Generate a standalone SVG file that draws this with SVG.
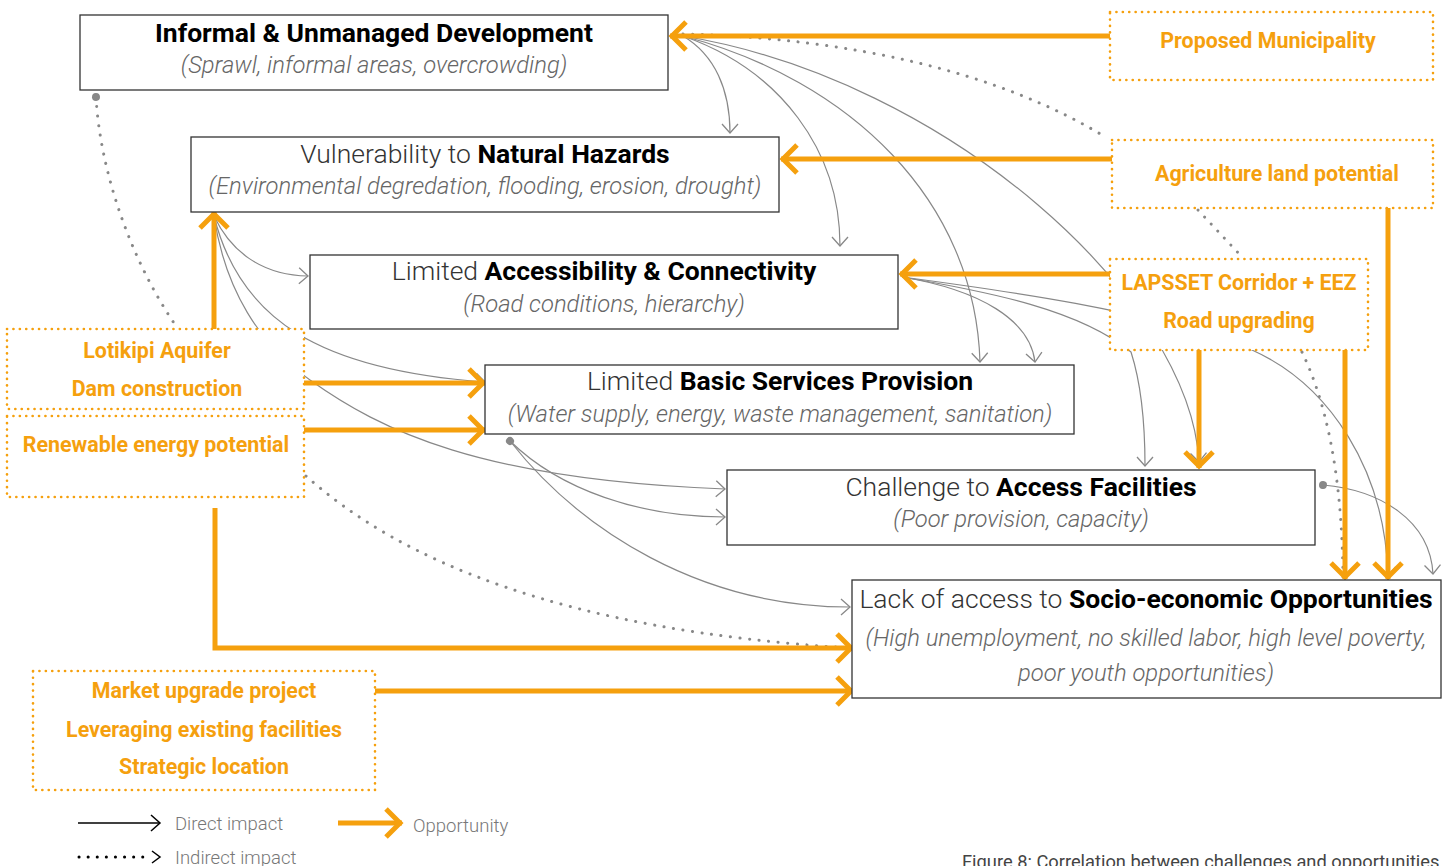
<svg xmlns="http://www.w3.org/2000/svg" width="1448" height="866" viewBox="0 0 1448 866">
<style>
.bg{fill:#fff}
.ch rect{fill:#fff;stroke:#333;stroke-width:1.3}
.op rect{fill:#fff;stroke:#F5A00E;stroke-width:2.6;stroke-dasharray:0.1 6.3;stroke-linecap:round}
.t{font-family:Roboto,"Liberation Sans",sans-serif;font-size:26.5px;text-anchor:middle;fill:#333;font-weight:300}
.t tspan.b{font-weight:700;fill:#000}
.tb{font-family:Roboto,"Liberation Sans",sans-serif;font-size:26.5px;text-anchor:middle;fill:#000;font-weight:700}
.s{font-family:Roboto,"Liberation Sans",sans-serif;font-size:23.8px;text-anchor:middle;fill:#666;font-style:italic;font-weight:300}
.o{font-family:Roboto,"Liberation Sans",sans-serif;font-size:21.4px;text-anchor:middle;fill:#F5A00E;font-weight:700}
.g{fill:none;stroke:#888;stroke-width:1.2;marker-end:url(#ga)}
.d{fill:none;stroke:#888;stroke-width:3;stroke-dasharray:0.1 9.5;stroke-linecap:round}
.or{fill:none;stroke:#F5A00E;stroke-width:5;marker-end:url(#oa)}
.lg{font-family:Roboto,"Liberation Sans",sans-serif;font-size:18.5px;fill:#777;font-weight:300}
.cap{font-family:Roboto,"Liberation Sans",sans-serif;font-size:18.3px;fill:#444}
</style>
<defs>
<marker id="ga" markerUnits="userSpaceOnUse" markerWidth="20" markerHeight="20" refX="0" refY="0" orient="auto" overflow="visible">
<path d="M-9,-8 L0,0 L-9,8" fill="none" stroke="#888" stroke-width="1.3"/>
</marker>
<marker id="ka" markerUnits="userSpaceOnUse" markerWidth="20" markerHeight="20" refX="0" refY="0" orient="auto" overflow="visible">
<path d="M-9,-8 L0,0 L-9,8" fill="none" stroke="#000" stroke-width="1.5"/>
</marker>
<marker id="oa" markerUnits="userSpaceOnUse" markerWidth="40" markerHeight="40" refX="0" refY="0" orient="auto" overflow="visible">
<path d="M-16,-14 L-2,0 L-16,14" fill="none" stroke="#F5A00E" stroke-width="5"/>
</marker>
<marker id="dot" markerUnits="userSpaceOnUse" markerWidth="10" markerHeight="10" refX="0" refY="0" orient="auto" overflow="visible">
<circle cx="0" cy="0" r="4" fill="#888"/>
</marker>
</defs>
<rect class="bg" x="0" y="0" width="1448" height="866"/>

<g id="connectors">
<!-- indirect (dotted) -->
<path class="d" d="M96,97 C100,170 130,260 178,329" marker-start="url(#dot)"/>
<path class="d" d="M683,34 C850,38 1000,72 1107,138"/>
<path class="d" d="M1198,210 L1243,258"/>
<path class="d" d="M1302,352 C1325,400 1342,470 1343,578"/>
<path class="d" d="M306,476 C400,560 560,630 850,648"/>
<!-- direct (gray) -->
<path class="g" d="M683,36 C715,55 730,90 730,133"/>
<path class="g" d="M683,36 C780,70 840,150 840,246"/>
<path class="g" d="M683,36 C850,80 975,200 980,362"/>
<path class="g" d="M683,36 C950,80 1190,300 1199,462"/>
<path class="g" d="M902,277 C980,290 1030,320 1035,362"/>
<path class="g" d="M902,277 C990,292 1080,310 1131,352 C1140,380 1145,420 1145,466"/>
<path class="g" d="M902,277 C1000,290 1150,310 1252,350 C1330,385 1385,470 1388,576"/>
<path class="g" d="M214,216 C230,250 260,275 308,276"/>
<path class="g" d="M214,216 C240,320 320,370 485,382"/>
<path class="g" d="M214,216 C225,290 260,345 310,380 C380,430 480,480 725,489"/>
<path class="g" d="M510,441 C560,490 640,517 725,517" marker-start="url(#dot)"/>
<path class="g" d="M510,441 C580,530 700,607 850,607"/>
<path class="g" d="M1323,485 C1380,490 1430,520 1433,574" marker-start="url(#dot)"/>
<!-- opportunities (orange) -->
<path class="or" d="M1110,36 L670,36"/>
<path class="or" d="M1112,159 L781,159"/>
<path class="or" d="M1110,274 L900,274"/>
<path class="or" d="M214,329 L214,212"/>
<path class="or" d="M304,383 L485,383"/>
<path class="or" d="M304,430 L485,430"/>
<path class="or" d="M215,508 L215,648 L853,648"/>
<path class="or" d="M375,691 L853,691"/>
<path class="or" d="M1199,350 L1199,468"/>
<path class="or" d="M1345,350 L1345,579"/>
<path class="or" d="M1388,208 L1388,579"/>
</g>

<g id="informal" class="ch">
<rect x="80" y="15" width="588" height="75"/>
<text class="tb" x="374" y="42">Informal &amp; Unmanaged Development</text>
<text class="s" x="374" y="73">(Sprawl, informal areas, overcrowding)</text>
</g>
<g id="hazards" class="ch">
<rect x="191" y="137" width="588" height="75"/>
<text class="t" x="485" y="163">Vulnerability to <tspan class="b">Natural Hazards</tspan></text>
<text class="s" x="485" y="194">(Environmental degredation, flooding, erosion, drought)</text>
</g>
<g id="accessibility" class="ch">
<rect x="310" y="255" width="588" height="74"/>
<text class="t" x="604" y="280">Limited <tspan class="b">Accessibility &amp; Connectivity</tspan></text>
<text class="s" x="604" y="312">(Road conditions, hierarchy)</text>
</g>
<g id="services" class="ch">
<rect x="485" y="365" width="589" height="69"/>
<text class="t" x="780" y="390">Limited <tspan class="b">Basic Services Provision</tspan></text>
<text class="s" x="780" y="422">(Water supply, energy, waste management, sanitation)</text>
</g>
<g id="facilities" class="ch">
<rect x="727" y="470" width="588" height="75"/>
<text class="t" x="1021" y="496">Challenge to <tspan class="b">Access Facilities</tspan></text>
<text class="s" x="1021" y="527">(Poor provision, capacity)</text>
</g>
<g id="socio" class="ch">
<rect x="852" y="580" width="589" height="118"/>
<text class="t" x="1146" y="608">Lack of access to <tspan class="b">Socio-economic Opportunities</tspan></text>
<text class="s" x="1146" y="646">(High unemployment, no skilled labor, high level poverty,</text>
<text class="s" x="1146" y="681">poor youth opportunities)</text>
</g>

<g id="municipality" class="op">
<rect x="1110" y="12" width="323" height="68"/>
<text class="o" x="1268" y="48">Proposed Municipality</text>
</g>
<g id="agriculture" class="op">
<rect x="1112" y="140" width="321" height="68"/>
<text class="o" x="1277" y="181">Agriculture land potential</text>
</g>
<g id="lapsset" class="op">
<rect x="1110" y="259" width="258" height="91"/>
<text class="o" x="1239" y="290">LAPSSET Corridor + EEZ</text>
<text class="o" x="1239" y="328">Road upgrading</text>
</g>
<g id="lotikipi" class="op">
<rect x="7" y="329" width="297" height="80"/>
<text class="o" x="157" y="358">Lotikipi Aquifer</text>
<text class="o" x="157" y="396">Dam construction</text>
</g>
<g id="renewable" class="op">
<rect x="7" y="416" width="297" height="81"/>
<text class="o" x="156" y="452">Renewable energy potential</text>
</g>
<g id="market" class="op">
<rect x="33" y="671" width="342" height="119"/>
<text class="o" x="204" y="698">Market upgrade project</text>
<text class="o" x="204" y="737">Leveraging existing facilities</text>
<text class="o" x="204" y="774">Strategic location</text>
</g>

<g id="legend">
<path d="M78,823 L160,823" fill="none" stroke="#000" stroke-width="1.3" marker-end="url(#ka)"/>
<text class="lg" x="175" y="830">Direct impact</text>
<path d="M338,823 L402,823" class="or"/>
<text class="lg" x="413" y="832">Opportunity</text>
<path d="M79,857 L150,857" fill="none" stroke="#000" stroke-width="3" stroke-dasharray="0.1 9" stroke-linecap="round"/>
<path d="M152,851 L160,857 L152,863" fill="none" stroke="#000" stroke-width="1.5"/>
<text class="lg" x="175" y="864">Indirect impact</text>
</g>
<text class="cap" x="962" y="868">Figure 8: Correlation between challenges and opportunities</text>
</svg>
